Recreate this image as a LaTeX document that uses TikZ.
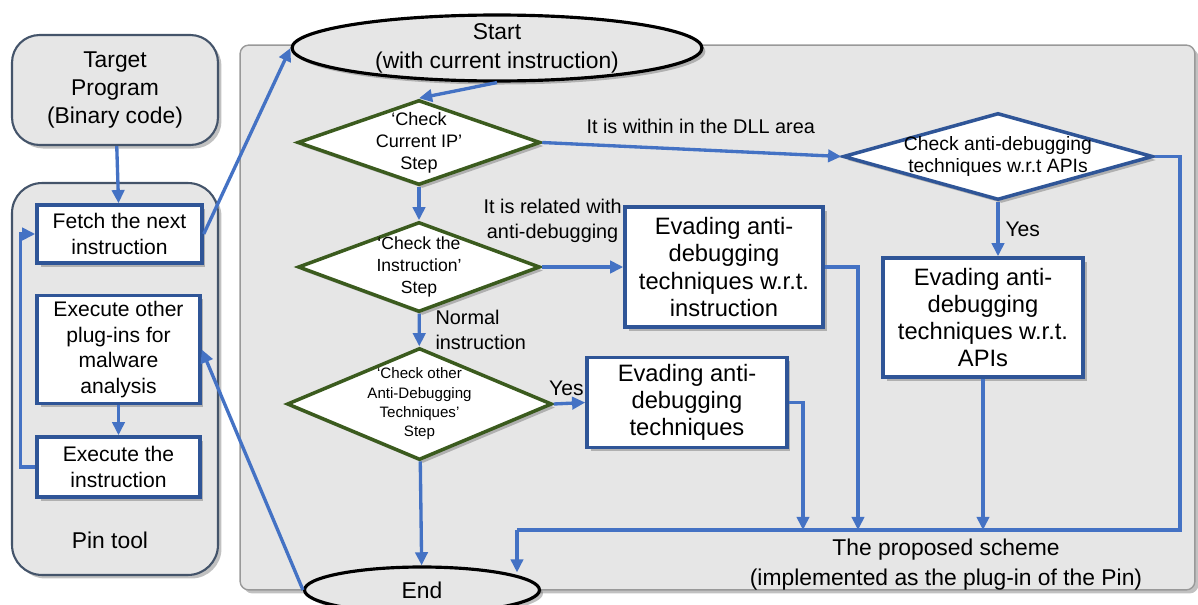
\documentclass[tikz,border=0pt]{standalone}
\usepackage{fontspec}
\setmainfont{Liberation Sans}
\usetikzlibrary{shapes.geometric,arrows.meta,shadows}

\definecolor{boxblue}{HTML}{2F5597}
\definecolor{flowblue}{HTML}{4472C4}
\definecolor{stepgreen}{HTML}{3B5B1E}
\definecolor{panelgray}{HTML}{E6E6E6}
\definecolor{slate}{HTML}{44546A}

\newcommand{\fs}[2]{\fontsize{#1}{#2}\selectfont}

\tikzset{
  boxshadow/.style={drop shadow={shadow xshift=2pt,shadow yshift=-2pt,opacity=0.35,fill=black!70}},
  panel/.style={draw=gray!80, fill=panelgray, rounded corners=5pt, line width=0.8pt, boxshadow},
  group/.style={draw=slate, fill=panelgray, rounded corners=0.55cm, line width=1.2pt,
    align=center, font=\fs{13}{15.9}, boxshadow},
  pinbox/.style={draw=boxblue, fill=white, line width=2pt, align=center,
    font=\fs{12}{14.5}, boxshadow},
  evade/.style={pinbox, font=\fs{13.5}{15.5}},
  checkstep/.style={shape=diamond, draw=stepgreen, fill=white, line width=2pt,
    inner sep=-4pt, align=center, boxshadow},
  apistep/.style={checkstep, draw=boxblue},
  terminal/.style={shape=ellipse, draw=black, fill=panelgray, line width=1.8pt,
    inner ysep=-3pt, align=center, font=\fs{13}{16.4}, boxshadow},
  flow/.style={color=flowblue, line width=1.9pt, ->},
  note/.style={text=black, align=center, font=\fs{11.3}{14}}
}

\begin{document}
\begin{tikzpicture}[x=0.02cm, y=-0.02cm, >={Triangle[length=7.5pt,width=7pt]}]
    \useasboundingbox (0,0) rectangle (1198,605);

    % Pin tool side
    \node[group, minimum width=4.12cm, minimum height=2.2cm] at (115,90) (target) {Target\\Program\\(Binary code)};
    \node[group, minimum width=4.12cm, minimum height=7.84cm, rounded corners=0.6cm] at (115,379) (pin) {};
    \node[font=\fs{13}{15.9}] at (110,540) (pinlabel) {Pin tool};
    \node[pinbox, minimum width=3.3cm, minimum height=1.16cm] at (119.5,234) (fetch) {Fetch the next\\instruction};
    \node[pinbox, minimum width=3.26cm, minimum height=2.1cm] at (118.5,349.5) (plugins) {Execute other\\plug-ins for\\malware\\analysis};
    \node[pinbox, minimum width=3.26cm, minimum height=1.2cm] at (118.5,467) (exec) {Execute the\\instruction};

    % the proposed scheme
    \node[panel, minimum width=19.1cm, minimum height=10.9cm] at (717.5,317.5) (scheme) {};
    \node[terminal, minimum width=8.2cm, minimum height=1.32cm] at (497,48) (start) {Start\\(with current instruction)};
    \node[checkstep, shape aspect=2.86, font=\fs{10.3}{12.5}, minimum width=4.86cm, minimum height=1.7cm] at (419,142.5) (ipstep) {`Check\\Current IP'\\Step};
    \node[checkstep, shape aspect=2.69, font=\fs{10}{12.5}, minimum width=4.84cm, minimum height=1.8cm] at (419,267) (inststep) {`Check the\\Instruction'\\Step};
    \node[checkstep, shape aspect=2.37, font=\fs{8.6}{11}, minimum width=5.3cm, minimum height=2.24cm] at (419.5,404) (otherstep) {`Check other\\Anti-Debugging\\Techniques'\\Step};
    \node[apistep, shape aspect=3.56, font=\fs{11}{13}, minimum width=6.2cm, minimum height=1.74cm] at (998,156.5) (apistep) {Check anti-debugging\\techniques w.r.t APIs};
    \node[evade, minimum width=3.96cm, minimum height=2.4cm] at (724,267) (evinst) {Evading anti-\\debugging\\techniques w.r.t.\\instruction};
    \node[evade, minimum width=4cm, minimum height=1.8cm] at (687,402.5) (evother) {Evading anti-\\debugging\\techniques};
    \node[evade, minimum width=4cm, minimum height=2.38cm] at (983,317.5) (evapi) {Evading anti-\\debugging\\techniques w.r.t.\\APIs};
    \node[terminal, minimum width=4.7cm, minimum height=0.92cm] at (422,590) (finish) {End};
    \node[align=center, font=\fs{13}{17}] at (946,565) (schemelabel) {The proposed scheme\\(implemented as the plug-in of the Pin)};

    \coordinate (b1) at (858,530);
    \coordinate (b2) at (803,530);
    \coordinate (b3) at (983,530);
    \coordinate (r) at (1180,530);
    \coordinate (l) at (517,530);

    % Pin tool flow
    \path [flow] (target) edge (fetch);
    \path [flow] (plugins) edge (exec);
    \draw [flow] (exec.west) -- ++(-15,0) |- (fetch.west);
    \path [flow] (fetch.east) edge (start.west);
    \path [flow] (finish.west) edge (plugins.east);

    % checks
    \path [flow] (start.south) edge (ipstep.north);
    \path [flow] (ipstep) edge (inststep);
    \path [flow] (inststep) edge node[note, right=5pt, align=left] {Normal\\instruction} (otherstep);
    \path [flow] (otherstep) edge (finish);
    \path [flow] (ipstep.east) edge node[note, above=5pt, pos=0.53] {It is within in the DLL area} (apistep.west);
    \path [flow] (inststep.east) edge node[note, anchor=south east, pos=1, yshift=13pt, inner sep=0pt] {It is related with\\anti-debugging} (evinst.west);
    \path [flow] (otherstep.east) edge node[note, font=\fs{12}{14}, above, pos=0.4] {Yes} (evother.west);
    \path [flow] (apistep.south) edge node[note, font=\fs{12}{14}, right] {Yes} (apistep.south |- evapi.north);

    % back to the end
    \draw [flow] (evinst.east) -| (b1);
    \draw [flow] (evother.east) -| (b2);
    \draw [flow] (evapi.south) -- (b3);
    \draw [flow, -] (apistep.east) -| (r) -- (l);
    \draw [flow, shorten >=-4pt] (l) -- (l |- finish.north);
\end{tikzpicture}
\end{document}
